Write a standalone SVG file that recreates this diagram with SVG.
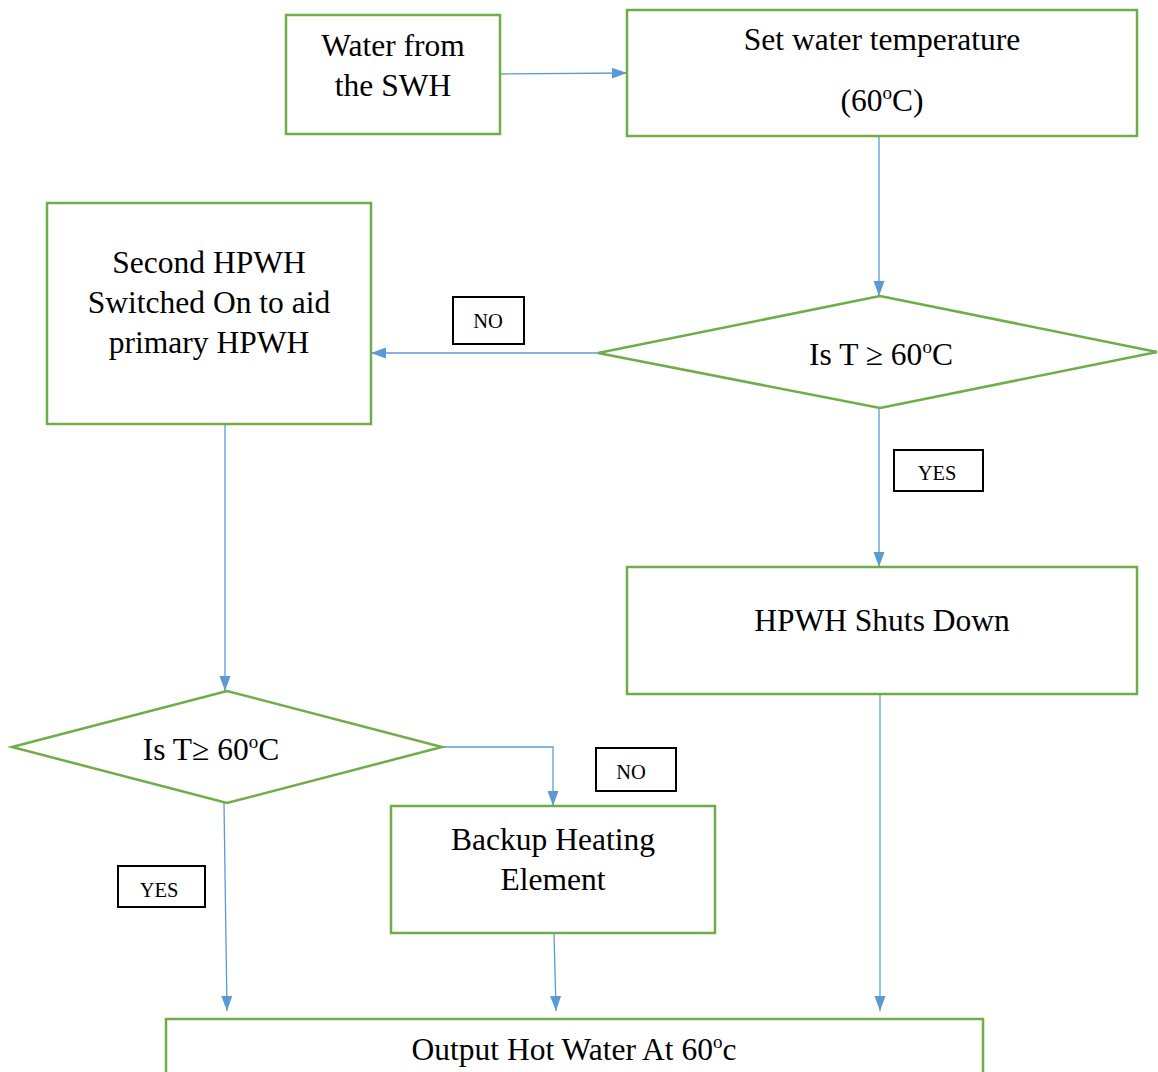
<svg xmlns="http://www.w3.org/2000/svg" width="1158" height="1072" viewBox="0 0 1158 1072">
<defs>
<style>
.n{fill:#fff;stroke:#70AD47;stroke-width:2.5}
.l{fill:#fff;stroke:#000;stroke-width:2}
.c{fill:none;stroke:#5B9BD5;stroke-width:1.3}
text{font-family:"Liberation Serif","Times New Roman",serif;fill:#000;text-anchor:middle}
.t{font-size:31.5px}
.s{font-size:20.5px}
.o{font-size:19px}
</style>
<marker id="a" markerWidth="16" markerHeight="12" refX="15" refY="6" orient="auto" markerUnits="userSpaceOnUse"><path d="M0,0.5 L15,6 L0,11.5 Z" fill="#5B9BD5"/></marker>
</defs>
<rect width="1158" height="1072" fill="#fff"/>
<g id="connectors">
<path class="c" d="M500,74 L627,73" marker-end="url(#a)"/>
<path class="c" d="M879,136 L879,296" marker-end="url(#a)"/>
<path class="c" d="M598,353 L371,353" marker-end="url(#a)"/>
<path class="c" d="M879,408 L879,567" marker-end="url(#a)"/>
<path class="c" d="M225,424 L225,691" marker-end="url(#a)"/>
<path class="c" d="M442,747 L553,747 L553,806" marker-end="url(#a)"/>
<path class="c" d="M224,803 L227,1011" marker-end="url(#a)"/>
<path class="c" d="M554,933 L556,1011" marker-end="url(#a)"/>
<path class="c" d="M880,694 L880,1011" marker-end="url(#a)"/>
</g>
<g id="n1"><rect class="n" x="286" y="15" width="214" height="119"/><text class="t" x="393" y="56">Water from</text><text class="t" x="393" y="96">the SWH</text></g>
<g id="n2"><rect class="n" x="627" y="10" width="510" height="126"/><text class="t" x="882" y="50">Set water temperature</text><text class="t" x="882" y="111">(60<tspan class="o" dy="-12">o</tspan><tspan dy="12">C)</tspan></text></g>
<g id="n3"><polygon class="n" points="598,353 880,296 1157,352 880,408"/><text class="t" x="881" y="365">Is T ≥ 60<tspan class="o" dy="-12">o</tspan><tspan dy="12">C</tspan></text></g>
<g id="n4"><rect class="n" x="47" y="203" width="324" height="221"/><text class="t" x="209" y="273">Second HPWH</text><text class="t" x="209" y="313">Switched On to aid</text><text class="t" x="209" y="353">primary HPWH</text></g>
<g id="n5"><rect class="n" x="627" y="567" width="510" height="127"/><text class="t" x="882" y="631">HPWH Shuts Down</text></g>
<g id="n6"><polygon class="n" points="12,747 227,691 442,747 227,803"/><text class="t" x="211" y="760">Is T≥ 60<tspan class="o" dy="-12">o</tspan><tspan dy="12">C</tspan></text></g>
<g id="n7"><rect class="n" x="391" y="806" width="324" height="127"/><text class="t" x="553" y="850">Backup Heating</text><text class="t" x="553" y="890">Element</text></g>
<g id="n8"><rect class="n" x="166" y="1019" width="817" height="70"/><text class="t" x="574" y="1060">Output Hot Water At 60<tspan class="o" dy="-12">o</tspan><tspan dy="12">c</tspan></text></g>
<g id="lbl1"><rect class="l" x="453" y="297" width="71" height="47"/><text class="s" x="488" y="328">NO</text></g>
<g id="lbl2"><rect class="l" x="894" y="450" width="89" height="41"/><text class="s" x="937" y="480">YES</text></g>
<g id="lbl3"><rect class="l" x="596" y="748" width="80" height="43"/><text class="s" x="631" y="779">NO</text></g>
<g id="lbl4"><rect class="l" x="118" y="866" width="87" height="41"/><text class="s" x="159" y="897">YES</text></g>
</svg>
